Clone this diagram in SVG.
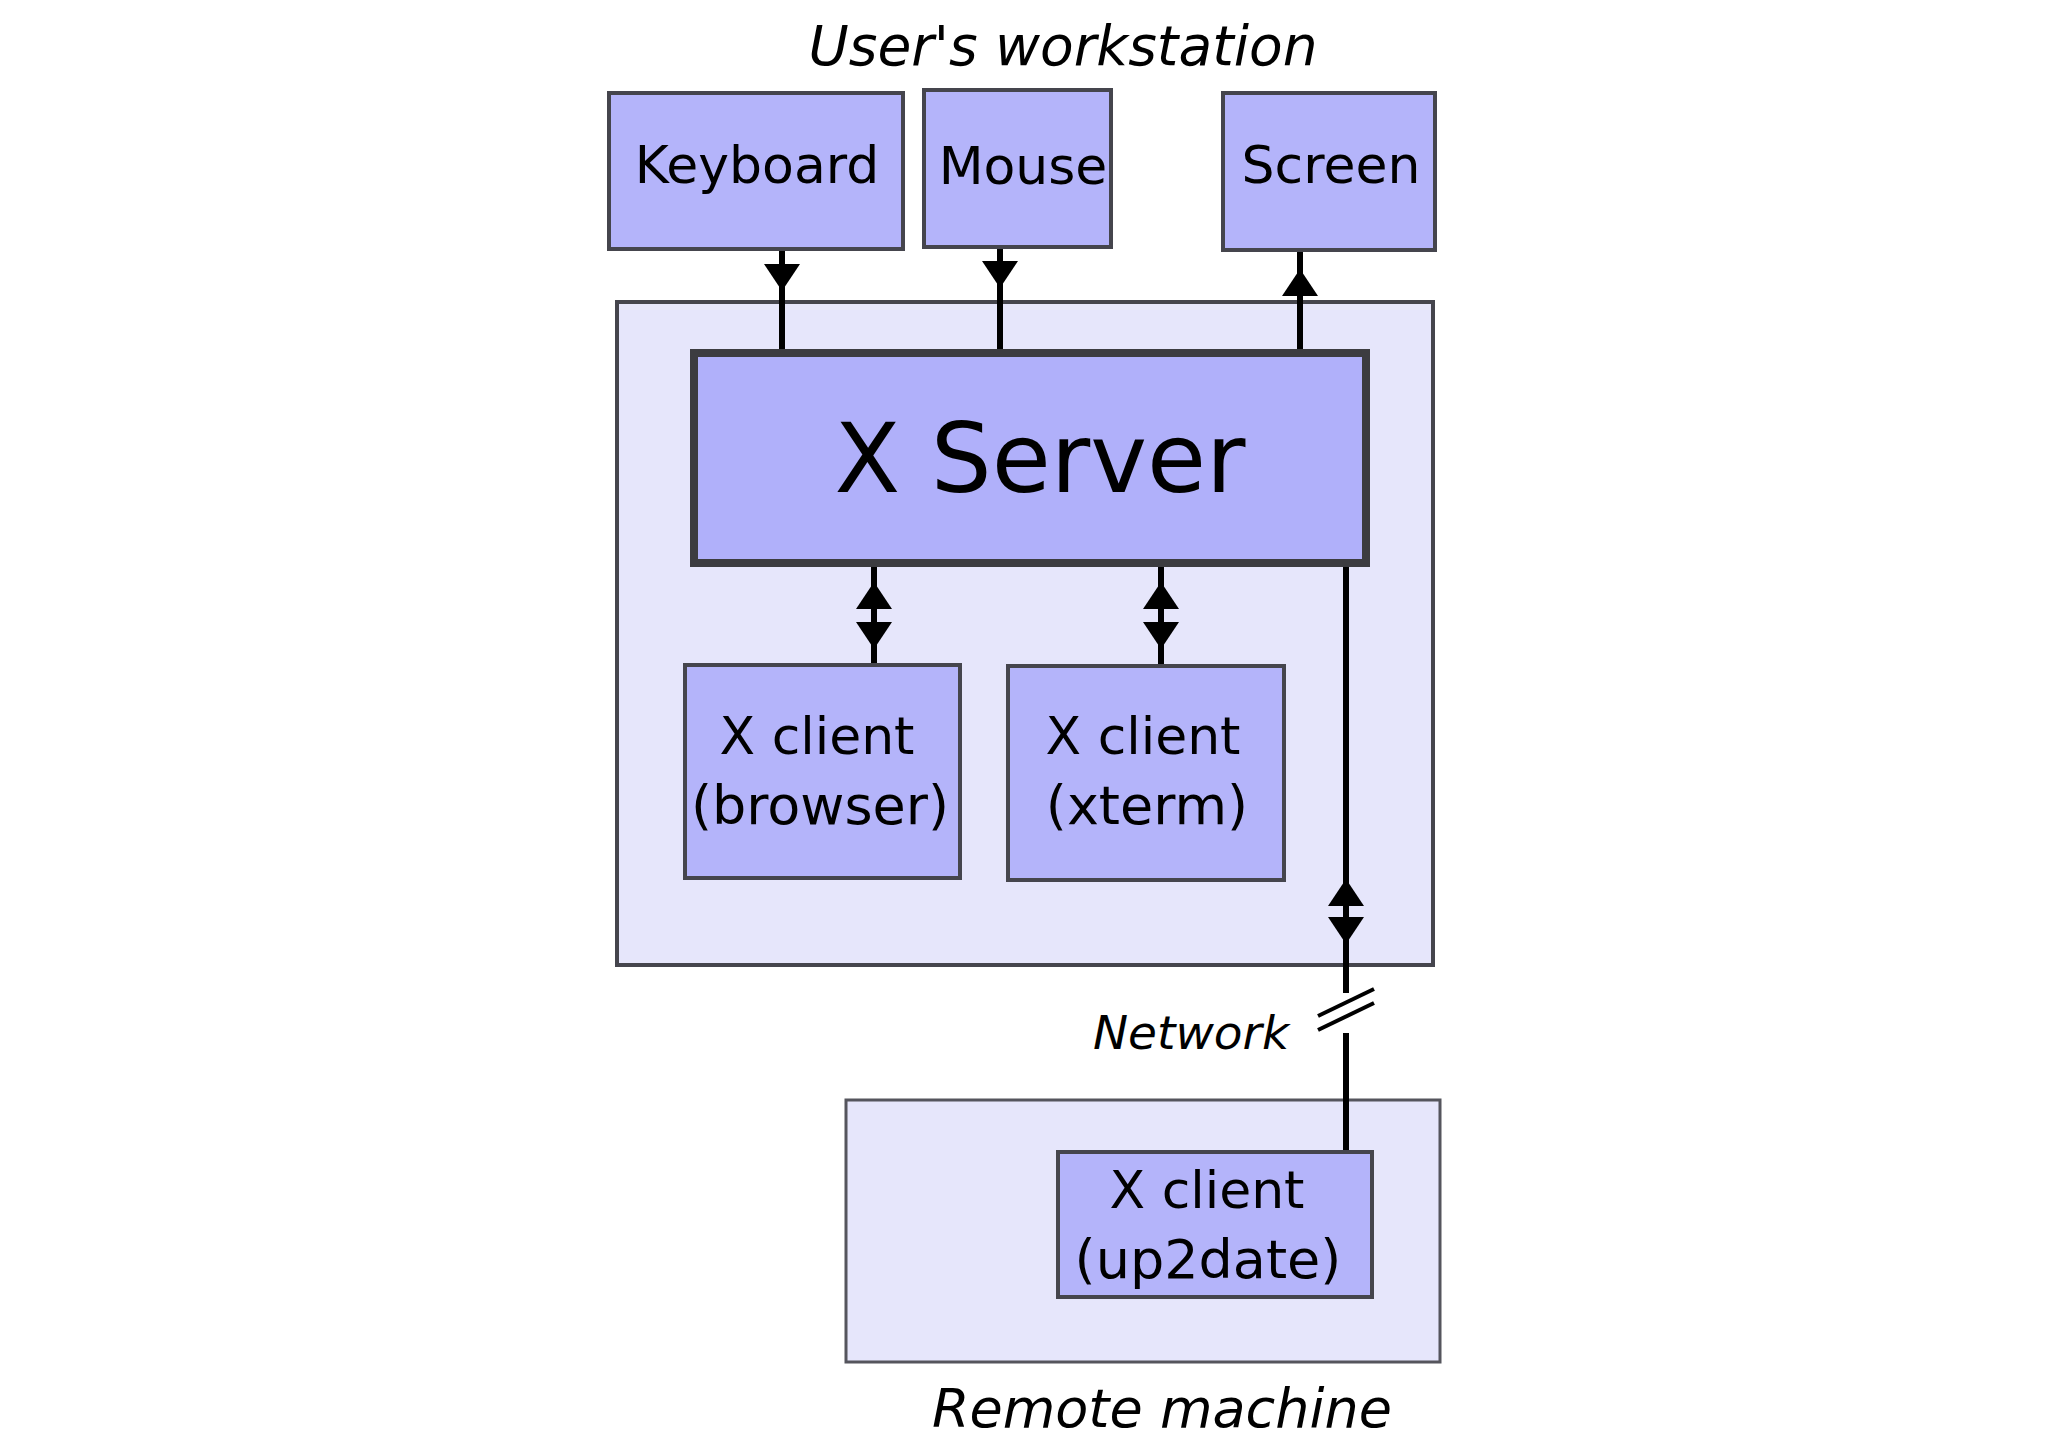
<svg xmlns="http://www.w3.org/2000/svg" width="2048" height="1448" viewBox="0 0 2048 1448">
<style>
.bg{fill:#ffffff}
.group{fill:#e6e6fb;stroke:#45454d;stroke-width:4}
.remote{fill:#e6e6fb;stroke:#55555d;stroke-width:3}
.node{fill:#b4b4fa;stroke:#45454d;stroke-width:4}
.server{fill:#b0b0fa;stroke:#3c3c40;stroke-width:8}
.lbl{font-family:"DejaVu Sans","Liberation Sans",sans-serif;font-size:52px;fill:#000;text-anchor:middle}
.sub{font-size:54px}
.big{font-size:96px}
.ital{font-family:"DejaVu Sans","Liberation Sans",sans-serif;font-style:oblique;fill:#000;text-anchor:middle}
.wire{stroke:#000;stroke-width:6;fill:none}
.slash{stroke:#000;stroke-width:4;fill:none}
</style>
<defs>
<polygon id="ah" points="0,0 -18,-27 18,-27" fill="#000"/>
</defs>
<rect class="bg" x="0" y="0" width="2048" height="1448"/>

<text class="ital" x="1063" y="65" font-size="55">User's workstation</text>

<g id="workstation">
<rect class="group" x="617" y="302" width="816" height="663"/>
</g>
<g id="remote-machine">
<rect class="remote" x="846" y="1100" width="594" height="262"/>
</g>

<g id="connectors">
<line class="wire" x1="782" y1="251" x2="782" y2="353"/>
<line class="wire" x1="1000" y1="249" x2="1000" y2="353"/>
<line class="wire" x1="1300" y1="252" x2="1300" y2="353"/>
<line class="wire" x1="874" y1="567" x2="874" y2="663"/>
<line class="wire" x1="1161" y1="567" x2="1161" y2="664"/>
<line class="wire" x1="1346" y1="567" x2="1346" y2="993"/>
<line class="wire" x1="1346" y1="1033" x2="1346" y2="1150"/>
<line class="slash" x1="1318" y1="1016" x2="1374" y2="989"/>
<line class="slash" x1="1318" y1="1030" x2="1374" y2="1003"/>
<use href="#ah" transform="translate(782,291)"/>
<use href="#ah" transform="translate(1000,288)"/>
<use href="#ah" transform="translate(1300,269) rotate(180)"/>
<use href="#ah" transform="translate(874,582) rotate(180)"/>
<use href="#ah" transform="translate(874,649)"/>
<use href="#ah" transform="translate(1161,582) rotate(180)"/>
<use href="#ah" transform="translate(1161,649)"/>
<use href="#ah" transform="translate(1346,879) rotate(180)"/>
<use href="#ah" transform="translate(1346,944)"/>
</g>

<g id="keyboard">
<rect class="node" x="609" y="93" width="294" height="156"/>
<text class="lbl" x="757" y="183">Keyboard</text>
</g>
<g id="mouse">
<rect class="node" x="924" y="90" width="187" height="157"/>
<text class="lbl" x="1023" y="184">Mouse</text>
</g>
<g id="screen">
<rect class="node" x="1223" y="93" width="212" height="157"/>
<text class="lbl" x="1331" y="183">Screen</text>
</g>
<g id="x-server">
<rect class="server" x="694" y="353" width="672" height="210"/>
<text class="lbl big" x="1040" y="492">X Server</text>
</g>
<g id="client-browser">
<rect class="node" x="685" y="665" width="275" height="213"/>
<text class="lbl" x="817" y="754">X client</text>
<text class="lbl sub" x="820" y="824">(browser)</text>
</g>
<g id="client-xterm">
<rect class="node" x="1008" y="666" width="276" height="214"/>
<text class="lbl" x="1143" y="754">X client</text>
<text class="lbl sub" x="1147" y="824">(xterm)</text>
</g>
<g id="client-up2date">
<rect class="node" x="1058" y="1152" width="314" height="145"/>
<text class="lbl" x="1207" y="1208">X client</text>
<text class="lbl sub" x="1208" y="1278">(up2date)</text>
</g>

<text class="ital" x="1191" y="1049" font-size="47">Network</text>
<text class="ital" x="1162" y="1427" font-size="54">Remote machine</text>
</svg>
